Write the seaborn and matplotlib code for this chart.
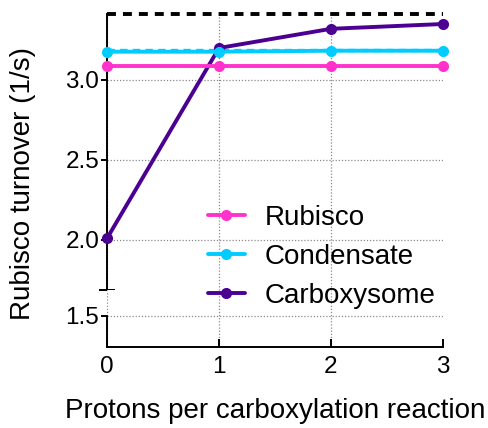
import matplotlib
matplotlib.use("Agg")
import matplotlib.pyplot as plt
import seaborn as sns

# ---- data ----
protons = [0, 1, 2, 3]
rubisco = [3.09, 3.09, 3.09, 3.09]
condensate = [3.177, 3.177, 3.183, 3.183]
carboxysome = [2.01, 3.20, 3.32, 3.35]
series_names = ["Rubisco", "Condensate", "Carboxysome"]
series_colors = ["#FF33CC", "#00CCFF", "#4B0092"]
condensate_limit = 3.19
carboxysome_limit = 3.41
y_ticks_top = [2.0, 2.5, 3.0]
y_ticks_bottom = [1.5]
x_ticks = [0, 1, 2, 3]
x_label = "Protons per carboxylation reaction"
y_label = "Rubisco turnover (1/s)"

sns.set_style("ticks")
plt.rcParams["font.family"] = ["Liberation Sans", "DejaVu Sans"]
plt.rcParams["text.color"] = "black"
plt.rcParams["xtick.color"] = "black"
plt.rcParams["ytick.color"] = "black"
plt.rcParams["axes.labelcolor"] = "black"
FS_TICK = 17.5
FS = 20

W, H = 489, 428
fig = plt.figure(figsize=(W / 100, H / 100), dpi=100)


def rect(x0, y0, x1, y1):
    return [x0 / W, 1 - y1 / H, (x1 - x0) / W, (y1 - y0) / H]


ax = fig.add_axes(rect(107, 14, 443, 290))
axb = fig.add_axes(rect(107, 290, 443, 346.7), sharex=ax)

grid_kw = dict(color="#8a8a8a", linestyle=(0, (1, 1.5)), linewidth=0.9)
for a in (ax, axb):
    a.set_axisbelow(True)
    a.grid(True, axis="both", **grid_kw)

lw, ms = 2.8, 8
order = [2, 1, 0]
values = [rubisco, condensate, carboxysome]
for i in order:
    sns.lineplot(x=protons, y=values[i], ax=ax, color=series_colors[i],
                 marker="o", markersize=ms, markeredgewidth=0, linewidth=lw,
                 label=series_names[i], clip_on=False, zorder=3 + (2 - i))

ax.axhline(condensate_limit, color=series_colors[1], linestyle=(0, (2.2, 1.6)),
           linewidth=2.4, zorder=2, clip_on=False)
ax.axhline(carboxysome_limit, color="black", linestyle=(0, (2.3, 1.8)),
           linewidth=2.8, zorder=2, clip_on=False)

# limits
ax.set_xlim(0, 3)
ax.set_ylim(1.6875, 3.4125)
axb.set_ylim(1.308, 1.6625)

# spines
for s in ("top", "right", "bottom"):
    ax.spines[s].set_visible(False)
for s in ("top", "right"):
    axb.spines[s].set_visible(False)
axb.spines["left"].set_bounds(1.308, 1.5)
for a in (ax, axb):
    for s in a.spines.values():
        s.set_linewidth(1.4)
        s.set_color("black")

# ticks
ax.set_yticks(y_ticks_top)
ax.set_yticklabels([f"{v:.1f}" for v in y_ticks_top])
ax.set_yticks([1.69], minor=True)
ax.tick_params(axis="y", which="minor", direction="inout", length=12, width=1.4, color="black")
ax.tick_params(axis="y", which="major", direction="out", length=4.5, width=1.4,
               labelsize=FS_TICK, pad=1, color="black", labelcolor="black")
ax.tick_params(axis="x", which="both", bottom=False, labelbottom=False)

axb.set_yticks(y_ticks_bottom)
axb.set_yticklabels([f"{v:.1f}" for v in y_ticks_bottom])
axb.tick_params(axis="y", direction="out", length=4.5, width=1.4, labelsize=FS_TICK, pad=1,
                color="black", labelcolor="black")
axb.set_xticks(x_ticks)
axb.set_xticklabels([str(v) for v in x_ticks])
axb.tick_params(axis="x", direction="in", length=6, width=1.4, labelsize=FS_TICK, pad=7,
                color="black", labelcolor="black")
ax.xaxis.get_gridlines()[-1].set_visible(False)
axb.xaxis.get_gridlines()[-1].set_visible(False)

axb.set_xlabel(x_label, fontsize=FS, labelpad=14, color="black")
ax.set_ylabel("")
fig.text(23 / W, 1 - 183 / H, y_label, rotation=90, ha="center", va="center",
         fontsize=FS, color="black")

# legend
handles, labels = ax.get_legend_handles_labels()
ax.get_legend().remove()
hmap = dict(zip(labels, handles))
fig.legend([hmap[n] for n in series_names], series_names, loc="upper left",
           bbox_to_anchor=(208 / W, 1 - 205 / H), frameon=False, fontsize=FS,
           borderaxespad=0, borderpad=0, handlelength=1.33, handletextpad=0.72,
           labelspacing=0.46, labelcolor="black")

fig.savefig("out.png", dpi=100)
